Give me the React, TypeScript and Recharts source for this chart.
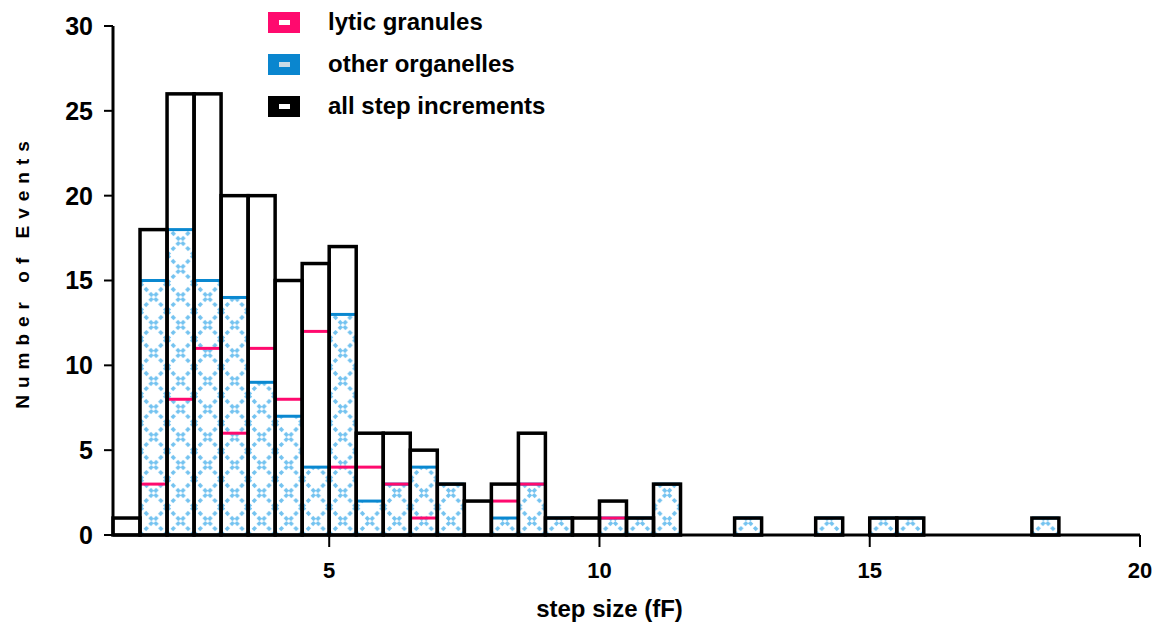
import React from 'react';
import {
  ComposedChart,
  Bar,
  XAxis,
  YAxis,
  Legend,
} from 'recharts';

// histogram bins, 0.5 fF wide (left edge)
const bins = [
  '1.0', '1.5', '2.0', '2.5', '3.0', '3.5', '4.0', '4.5', '5.0', '5.5',
  '6.0', '6.5', '7.0', '7.5', '8.0', '8.5', '9.0', '9.5', '10.0', '10.5',
  '11.0', '11.5', '12.0', '12.5', '13.0', '13.5', '14.0', '14.5', '15.0', '15.5',
  '16.0', '16.5', '17.0', '17.5', '18.0', '18.5', '19.0', '19.5',
];
const allSteps = [
  1, 18, 26, 26, 20, 20, 15, 16, 17, 6,
  6, 5, 3, 2, 3, 6, 1, 1, 2, 1,
  3, 0, 0, 1, 0, 0, 1, 0, 1, 1,
  0, 0, 0, 0, 1, 0, 0, 0,
];
const otherOrganelles = [
  0, 15, 18, 15, 14, 9, 7, 4, 13, 2,
  3, 4, 3, 0, 1, 3, 1, 0, 1, 1,
  3, 0, 0, 1, 0, 0, 1, 0, 1, 1,
  0, 0, 0, 0, 1, 0, 0, 0,
];
const lyticGranules = [
  0, 3, 8, 11, 6, 11, 8, 12, 4, 4,
  3, 1, 0, 0, 2, 3, 0, 0, 1, 0,
  0, 0, 0, 0, 0, 0, 0, 0, 0, 0,
  0, 0, 0, 0, 0, 0, 0, 0,
];
const xTicks = [5, 10, 15, 20];
const yTicks = [0, 5, 10, 15, 20, 25, 30];

const legendItems = [
  { name: 'lytic granules', color: '#ff0a6e', inner: '#ffffff' },
  { name: 'other organelles', color: '#0a86cf', inner: '#c9dbe6' },
  { name: 'all step increments', color: '#000000', inner: '#ffffff' },
];

const data = bins.map((bin, i) => ({
  bin,
  start: parseFloat(bin),
  all: allSteps[i],
  other: otherOrganelles[i],
  lytic: lyticGranules[i],
}));

const FONT = '"Liberation Sans", Arial, Helvetica, sans-serif';
const PINK = '#ff0a6e';
const BLUE = '#0a88d0';
const HATCH = '#74c3f0';

const OtherShape = (props: any) => {
  const { x, y, width, height } = props;
  if (!height || height <= 0) return <g />;
  return (
    <g>
      <rect x={x} y={y} width={width} height={height} fill="url(#hatch)" />
      <line x1={x} x2={x + width} y1={y} y2={y} stroke={BLUE} strokeWidth={3} />
    </g>
  );
};

const LyticShape = (props: any) => {
  const { x, y, width, height } = props;
  if (!height || height <= 0) return <g />;
  return <line x1={x} x2={x + width} y1={y} y2={y} stroke={PINK} strokeWidth={3} />;
};

const AllShape = (props: any) => {
  const { x, y, width, height } = props;
  if (!height || height <= 0) return <g />;
  return (
    <rect x={x} y={y} width={width} height={height} fill="none" stroke="#000" strokeWidth={3.5} />
  );
};

const LegendContent = () => (
  <div style={{ fontFamily: FONT, fontWeight: 'bold', fontSize: 24, color: '#000' }}>
    {legendItems.map((item) => (
      <div key={item.name} style={{ display: 'flex', alignItems: 'center', height: 42 }}>
        <svg width={32} height={21} style={{ marginRight: 28 }}>
          <rect x={0} y={0} width={32} height={21} fill={item.color} />
          <rect x={11} y={8} width={11} height={5} fill={item.inner} />
        </svg>
        <span>{item.name}</span>
      </div>
    ))}
  </div>
);

const YLabel = (props: any) => {
  const vb = props.viewBox;
  const cx = vb.x + 9;
  const cy = vb.y + vb.height / 2 - 9;
  return (
    <text
      x={cx}
      y={cy}
      transform={`rotate(-90 ${cx} ${cy})`}
      textAnchor="middle"
      dominantBaseline="central"
      fontFamily={FONT}
      fontWeight="bold"
      fontSize={19}
      letterSpacing={7}
      fill="#000"
    >
      Number of Events
    </text>
  );
};

const XLabel = (props: any) => {
  const vb = props.viewBox;
  return (
    <text
      x={vb.x + vb.width / 2 - 17}
      y={vb.y + 82}
      textAnchor="middle"
      fontFamily={FONT}
      fontWeight="bold"
      fontSize={24}
      fill="#000"
    >
      step size (fF)
    </text>
  );
};

const App: React.FC = () => {
  return (
    <div style={{ position: 'absolute', left: 0, top: 0, background: '#fff' }}>
      <ComposedChart
        width={1154}
        height={622}
        data={data}
        barCategoryGap={0}
        barGap={0}
        margin={{ top: 26, right: 14, left: 13, bottom: 57 }}
      >
        <defs>
          <pattern id="hatch" patternUnits="userSpaceOnUse" x={113} y={535} width={27.03} height={28}>
            <rect width={27.03} height={28} fill="#fff" />
            <path
              d="M0,0 L27.03,28 M27.03,0 L0,28"
              stroke={HATCH}
              strokeWidth={3.5}
              strokeDasharray="4 3"
            />
          </pattern>
        </defs>
        <XAxis
          xAxisId="n"
          type="number"
          dataKey="start"
          domain={[1, 20]}
          ticks={xTicks}
          allowDataOverflow
          height={30}
          axisLine={{ stroke: '#000', strokeWidth: 3 }}
          tickLine={{ stroke: '#000', strokeWidth: 2 }}
          tickSize={12}
          tickMargin={15}
          tick={{ fill: '#000', fontSize: 22, fontWeight: 'bold', fontFamily: FONT }}
          label={XLabel}
        />
        <XAxis xAxisId="a" dataKey="bin" hide height={0} />
        <XAxis xAxisId="b" dataKey="bin" hide height={0} />
        <XAxis xAxisId="c" dataKey="bin" hide height={0} />
        <YAxis
          domain={[0, 30]}
          ticks={yTicks}
          width={100}
          axisLine={{ stroke: '#000', strokeWidth: 3 }}
          tickLine={{ stroke: '#000', strokeWidth: 2 }}
          tickSize={9}
          tickMargin={11}
          tick={{ fill: '#000', fontSize: 25, fontWeight: 'bold', fontFamily: FONT }}
          label={YLabel}
        />
        <Legend
          layout="vertical"
          align="center"
          verticalAlign="middle"
          content={LegendContent}
          wrapperStyle={{ top: 1, left: 268, width: 320 }}
        />
        <Bar xAxisId="b" dataKey="other" name="other organelles" shape={OtherShape} isAnimationActive={false} />
        <Bar xAxisId="c" dataKey="lytic" name="lytic granules" shape={LyticShape} isAnimationActive={false} />
        <Bar xAxisId="a" dataKey="all" name="all step increments" shape={AllShape} isAnimationActive={false} />
      </ComposedChart>
    </div>
  );
};

export default App;
